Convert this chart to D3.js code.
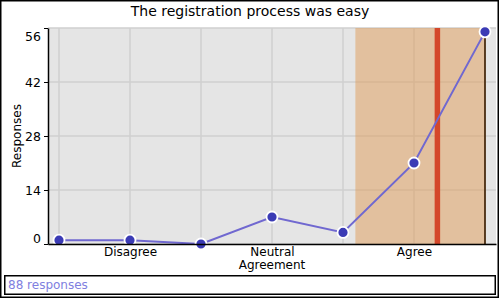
<!DOCTYPE html>
<html><head><meta charset="utf-8">
<script src="https://cdn.jsdelivr.net/npm/d3@7"></script>
<style>body{margin:0;background:#fff}svg{display:block;font-family:"DejaVu Sans",sans-serif}</style>
</head><body>
<svg id="c" width="500" height="300"></svg>
<script>
const title = "The registration process was easy";
const levels = [1,2,3,4,5,6,7];
const counts = [1,1,0,7,3,21,55];
const tickLevels = [2,4,6];
const tickNames = ["Disagree","Neutral","Agree"];
const yTicks = [0,14,28,42,56];
const footer = "88 responses";

const total = d3.sum(counts);
const mean = d3.sum(levels.map((l,i)=>l*counts[i]))/total;
const sd = Math.sqrt(d3.sum(levels.map((l,i)=>counts[i]*(l-mean)*(l-mean)))/total);
let cum=0, median=levels[0];
for(let i=0;i<levels.length;i++){cum+=counts[i]; if(cum>=total/2){median=levels[i];break;}}

const svg = d3.select("#c");
const L=48,R=496,T=28,B=244;
const x = d3.scaleLinear().domain([0.845,7.155]).range([L,R]);
const y = d3.scaleLinear().domain([0,56]).range([B,T]);

svg.append("rect").attr("x",0.75).attr("y",0.75).attr("width",497.5).attr("height",296.5).attr("fill","none").attr("stroke","#000").attr("stroke-width",1.5);
svg.append("text").attr("x",250).attr("y",16).attr("text-anchor","middle").attr("font-size",14).text(title);

svg.append("rect").attr("x",L).attr("y",T).attr("width",R-L).attr("height",B-T).attr("fill","#e5e5e5");
const g = svg.append("g");
g.selectAll(".vg").data(levels).join("line").attr("x1",d=>x(d)).attr("x2",d=>x(d)).attr("y1",T).attr("y2",B).attr("stroke","#cfcfcf").attr("stroke-width",1.5);
g.selectAll(".hg").data(yTicks).join("line").attr("x1",L).attr("x2",R).attr("y1",d=>y(d)).attr("y2",d=>y(d)).attr("stroke","#cfcfcf").attr("stroke-width",1.5);

const lo = Math.max(levels[0], mean-sd), hi = Math.min(levels[levels.length-1], mean+sd);
svg.append("rect").attr("x",x(lo)).attr("y",T).attr("width",x(hi)-x(lo)).attr("height",B-T).attr("fill","#df9b57").attr("opacity",0.5);
svg.append("line").attr("x1",x(mean)).attr("x2",x(mean)).attr("y1",T).attr("y2",B).attr("stroke","#d4472a").attr("stroke-width",5.5);
svg.append("line").attr("x1",x(median)).attr("x2",x(median)).attr("y1",T).attr("y2",B).attr("stroke","#4a2e12").attr("stroke-width",1.8);

const pts = levels.map((l,i)=>[l,counts[i]]);
svg.append("path").attr("d",d3.line().x(d=>x(d[0])).y(d=>y(d[1]))(pts)).attr("fill","none").attr("stroke","#7068d0").attr("stroke-width",2);
svg.selectAll(".pt").data(pts).join("circle").attr("cx",d=>x(d[0])).attr("cy",d=>y(d[1])).attr("r",5.5).attr("fill","#3b3bb5").attr("stroke","#fff").attr("stroke-width",1.8);

const ya = svg.append("g").attr("transform",`translate(${L},0)`).call(d3.axisLeft(y).tickValues(yTicks).tickSize(4).tickSizeOuter(0));
ya.select(".domain").attr("stroke","#000").attr("stroke-width",1.5);
ya.selectAll(".tick text").attr("font-size",12.5).attr("font-family","DejaVu Sans").attr("fill","#000")
  .attr("y",function(d){const yy=y(d); const c=Math.min(Math.max(yy,T+8),B-6); return c-yy;}).attr("dy","0.35em");
ya.selectAll(".tick line").attr("stroke","#000");
const xa = svg.append("g").attr("transform",`translate(0,${B})`).call(d3.axisBottom(x).tickValues(tickLevels).tickFormat((d,i)=>tickNames[i]).tickSize(0).tickSizeOuter(0).tickPadding(3));
xa.select(".domain").attr("stroke","#000").attr("stroke-width",1.5);
xa.selectAll(".tick text").attr("font-size",12).attr("font-family","DejaVu Sans").attr("fill","#000");
svg.append("text").attr("x",(L+R)/2).attr("y",269).attr("text-anchor","middle").attr("font-size",12).text("Agreement");
svg.append("text").attr("transform",`translate(21,${(T+B)/2}) rotate(-90)`).attr("text-anchor","middle").attr("font-size",12).text("Responses");

svg.append("rect").attr("x",4.75).attr("y",275.75).attr("width",490.5).attr("height",18.5).attr("fill","none").attr("stroke","#000").attr("stroke-width",1.5);
svg.append("text").attr("x",8).attr("y",289).attr("font-size",12).attr("fill","#8080e0").text(footer);
</script>
</body></html>
